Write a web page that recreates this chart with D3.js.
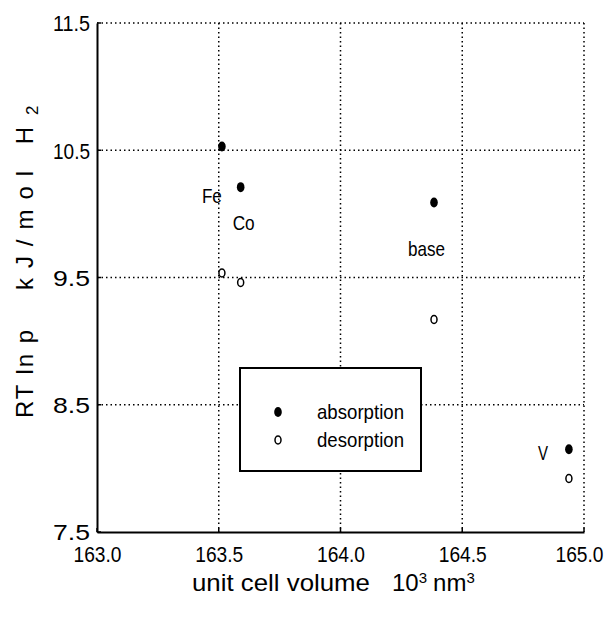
<!DOCTYPE html>
<html><head><meta charset="utf-8">
<script src="https://cdn.jsdelivr.net/npm/d3@7"></script>
<style>
body{margin:0;background:#fff;}
text{font-family:"Liberation Sans",Arial,sans-serif;fill:#000;}
</style></head>
<body><svg id="c" width="611" height="617"></svg>
<script>
const alloys = ["Fe","Co","base","V"];
const volume = [163.513, 163.59, 164.384, 164.938];
const absorption = [10.53, 10.21, 10.09, 8.15];
const desorption = [9.535, 9.46, 9.17, 7.92];
const xTicks = [163.0, 163.5, 164.0, 164.5, 165.0];
const yTicks = [7.5, 8.5, 9.5, 10.5, 11.5];
const seriesNames = ["absorption","desorption"];

const svg = d3.select("#c");
const L=97, R=584, T=23, B=532;
const x = d3.scaleLinear().domain([163,165]).range([L,R]);
const y = d3.scaleLinear().domain([7.5,11.5]).range([B,T]);
const dots = "1.5,3";

// gridlines
svg.append("g").selectAll("line").data(xTicks.slice(1)).join("line")
  .attr("x1",d=>x(d)).attr("x2",d=>x(d)).attr("y1",T).attr("y2",B)
  .attr("stroke","#000").attr("stroke-width",1.5).attr("stroke-dasharray",dots);
svg.append("g").selectAll("line").data(yTicks.slice(1)).join("line")
  .attr("x1",L).attr("x2",R).attr("y1",d=>y(d)).attr("y2",d=>y(d))
  .attr("stroke","#000").attr("stroke-width",1.5).attr("stroke-dasharray",dots);

// axes
const xa = svg.append("g").attr("transform",`translate(0,${B})`)
  .call(d3.axisBottom(x).tickValues(xTicks).tickFormat(d3.format(".1f")).tickSize(0).tickPadding(30));
const ya = svg.append("g").attr("transform",`translate(${L},0)`)
  .call(d3.axisLeft(y).tickValues(yTicks).tickFormat(d3.format(".1f")).tickSize(0).tickPadding(7));
[xa,ya].forEach(a=>{
  a.select(".domain").attr("stroke","#000").attr("stroke-width",2);
  a.selectAll("text").attr("font-size",22).attr("fill","#000")
    .attr("lengthAdjust","spacingAndGlyphs");
});
xa.selectAll("text").attr("dy",0).attr("textLength",48);
xa.selectAll("text").filter(d=>d===165).attr("dx",-5);
ya.selectAll("text").attr("dy","0.36em").attr("textLength",37);
// small inward ticks
svg.append("g").selectAll("line").data(yTicks).join("line")
  .attr("x1",L).attr("x2",L+4).attr("y1",d=>y(d)).attr("y2",d=>y(d)).attr("stroke","#000").attr("stroke-width",1.5);
svg.append("g").selectAll("line").data(xTicks).join("line")
  .attr("x1",d=>x(d)).attr("x2",d=>x(d)).attr("y1",B).attr("y2",B-4).attr("stroke","#000").attr("stroke-width",1.5);

// markers
const pts = alloys.map((a,i)=>({a, v:volume[i], ab:absorption[i], de:desorption[i]}));
svg.append("g").selectAll("ellipse").data(pts).join("ellipse")
  .attr("cx",d=>x(d.v)).attr("cy",d=>y(d.ab)).attr("rx",3.8).attr("ry",5).attr("fill","#000");
svg.append("g").selectAll("ellipse").data(pts).join("ellipse")
  .attr("cx",d=>x(d.v)).attr("cy",d=>y(d.de)).attr("rx",3).attr("ry",4)
  .attr("fill","#fff").attr("stroke","#000").attr("stroke-width",1.5);

// point labels
const labOff = {Fe:[-20,57], Co:[-8,43], base:[-26,54], V:[-31,11]};
const labW = {Fe:20, Co:22, base:37, V:10};
svg.append("g").selectAll("text").data(pts).join("text")
  .attr("x",d=>x(d.v)+labOff[d.a][0]).attr("y",d=>y(d.ab)+labOff[d.a][1])
  .attr("font-size",21).attr("textLength",d=>labW[d.a]).attr("lengthAdjust","spacingAndGlyphs").text(d=>d.a);

// legend
const lg = svg.append("g");
lg.append("rect").attr("x",240).attr("y",368).attr("width",181).attr("height",103)
  .attr("fill","#fff").attr("stroke","#000").attr("stroke-width",2);
seriesNames.forEach((s,i)=>{
  const cy = 412 + i*28;
  if(i===0) lg.append("ellipse").attr("cx",278).attr("cy",cy).attr("rx",3.8).attr("ry",5).attr("fill","#000");
  else lg.append("ellipse").attr("cx",278).attr("cy",cy).attr("rx",3).attr("ry",4).attr("fill","#fff").attr("stroke","#000").attr("stroke-width",1.5);
  lg.append("text").attr("x",317).attr("y",cy+7).attr("font-size",21)
    .attr("textLength",87).attr("lengthAdjust","spacingAndGlyphs").text(s);
});

// axis titles
const xt = svg.append("text").attr("x",192).attr("y",591).attr("font-size",24);
xt.append("tspan").attr("textLength",178).attr("lengthAdjust","spacingAndGlyphs").text("unit cell volume");
xt.append("tspan").attr("x",392).text("10");
xt.append("tspan").attr("dy",-8).attr("font-size",15).text("3");
xt.append("tspan").attr("dy",8).attr("dx",6).text("nm");
xt.append("tspan").attr("dy",-8).attr("font-size",15).text("3");

const yt = svg.append("text").attr("transform","translate(33,418) rotate(-90)").attr("font-size",24);
yt.append("tspan").attr("textLength",88).attr("lengthAdjust","spacing").text("RT ln p");
yt.append("tspan").attr("x",128).attr("textLength",163).attr("lengthAdjust","spacing").text("kJ/mol H");
yt.append("tspan").attr("dy",5).attr("dx",2).attr("font-size",17).text("2");
</script></body></html>
